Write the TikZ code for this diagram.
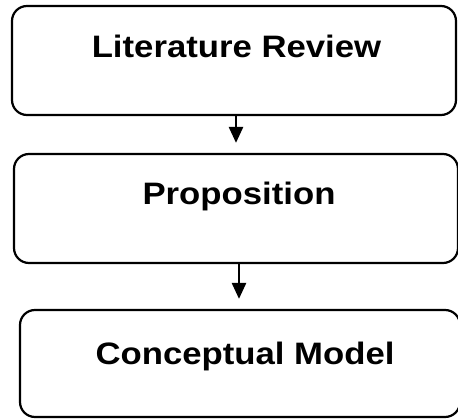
\documentclass[tikz,border=0pt]{standalone}
\usepackage{fontspec}
\setmainfont{Liberation Sans}
\newfontfamily\stagefont[FakeStretch=1.12]{Liberation Sans}
\usetikzlibrary{arrows.meta}
\tikzset{
  stagebox/.style={draw=black, line width=2.2pt, rounded corners=15pt, inner sep=0pt},
  stagelabel/.style={anchor=base, inner sep=0pt, font=\stagefont\fontsize{31}{31}\selectfont\bfseries},
  flow/.style={line width=2.6pt, -{Triangle[length=16pt,width=14pt]}, shorten >=10pt}
}
\begin{document}
\begin{tikzpicture}[x=1pt,y=-1pt]
  \useasboundingbox (0,0) rectangle (458,419);
  % stage boxes
  \node[stagebox, minimum width=444pt, minimum height=109pt] (b1) at (234,60.5) {};
  \node[stagebox, minimum width=444pt, minimum height=109pt] (b2) at (236,208.5) {};
  \node[stagebox, minimum width=440pt, minimum height=107pt] (b3) at (240,363.5) {};
  % stage titles
  \node[stagelabel] (t1) at (236.5,58) {Literature Review};
  \node[stagelabel] (t2) at (239,205) {Proposition};
  \node[stagelabel] (t3) at (245,365) {Conceptual Model};
  % connectors
  \draw[flow] ([xshift=2pt]b1.south) -- ([xshift=2pt]b1.south |- b2.north);
  \draw[flow] ([xshift=3pt]b2.south) -- ([xshift=3pt]b2.south |- b3.north);
\end{tikzpicture}
\end{document}
